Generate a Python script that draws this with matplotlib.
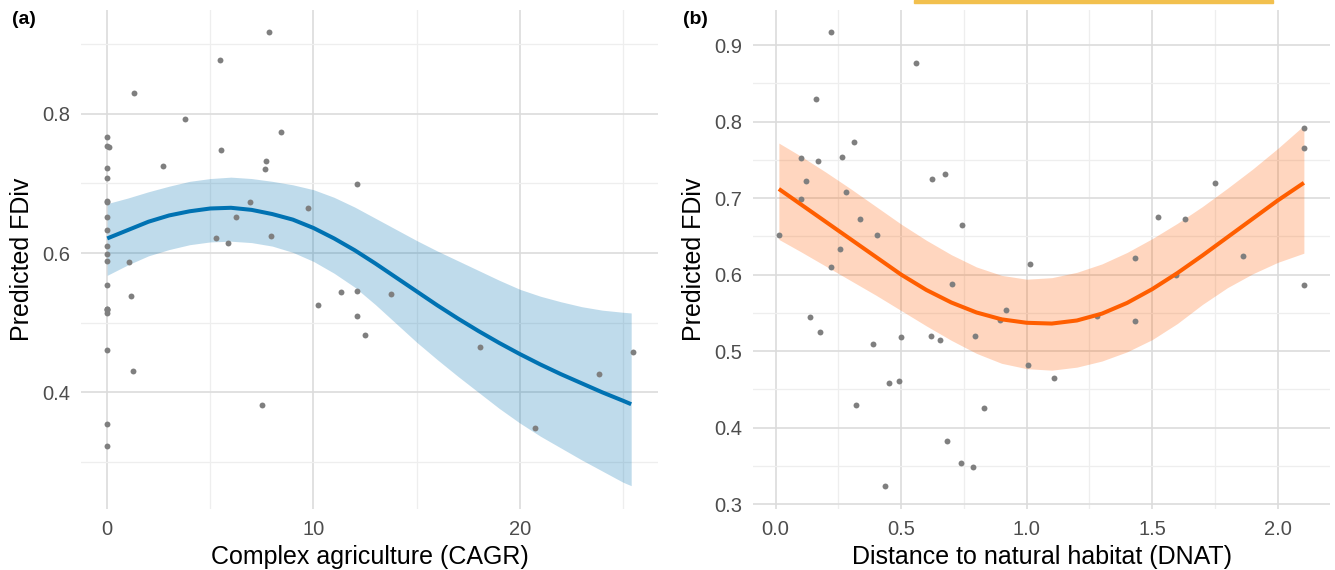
import matplotlib.pyplot as plt
import numpy as np

plt.rcParams['font.family'] = ['Liberation Sans', 'DejaVu Sans']

# observed FDiv values with both predictors
fdiv = [0.917, 0.877, 0.830, 0.792, 0.774, 0.766, 0.754, 0.752, 0.748, 0.732,
        0.725, 0.722, 0.720, 0.708, 0.699, 0.675, 0.673, 0.673, 0.665, 0.652,
        0.652, 0.633, 0.624, 0.622, 0.614, 0.610, 0.599, 0.588, 0.587, 0.554,
        0.546, 0.544, 0.541, 0.539, 0.525, 0.520, 0.520, 0.518, 0.514, 0.509,
        0.482, 0.465, 0.461, 0.458, 0.430, 0.426, 0.382, 0.354, 0.349, 0.323]
cagr = [7.82, 5.47, 1.29, 3.75, 8.41, 0, 0, 0.1, 5.50, 7.72,
        2.72, 0, 7.67, 0, 12.12, 0, 6.93, 0, 9.74, 0,
        6.23, 0, 7.95, 5.27, 5.87, 0, 0, 0, 1.07, 0,
        12.09, 11.33, 13.74, 1.15, 10.2, 0, 0, 0, 0, 12.09,
        12.49, 18.06, 0, 25.47, 1.23, 23.82, 7.51, 0, 20.73, 0]
dnat = [0.220, 0.559, 0.160, 2.104, 0.311, 2.104, 0.265, 0.101, 0.168, 0.673,
        0.621, 0.121, 1.749, 0.280, 0.100, 1.523, 1.632, 0.337, 0.741, 0.013,
        0.405, 0.256, 1.862, 1.432, 1.012, 0.220, 1.595, 0.701, 2.104, 0.918,
        1.280, 0.138, 0.895, 1.433, 0.176, 0.619, 0.794, 0.500, 0.653, 0.386,
        1.004, 1.110, 0.490, 0.451, 0.320, 0.829, 0.681, 0.737, 0.786, 0.434]

# fitted smooth and confidence band, panel (a)
fit_a_x = [0, 1, 2, 3, 4, 5, 6, 7, 8, 9, 10, 11, 12, 13, 14, 15, 16, 17, 18, 19,
           20, 21, 22, 23, 24, 25, 25.4]
fit_a_y = [0.621, 0.633, 0.645, 0.654, 0.660, 0.664, 0.665, 0.662, 0.656, 0.648,
           0.636, 0.621, 0.604, 0.585, 0.565, 0.545, 0.525, 0.506, 0.488, 0.471,
           0.455, 0.440, 0.426, 0.413, 0.400, 0.388, 0.383]
fit_a_hi = [0.671, 0.679, 0.688, 0.696, 0.703, 0.707, 0.709, 0.707, 0.703, 0.698,
            0.691, 0.680, 0.666, 0.650, 0.634, 0.618, 0.603, 0.589, 0.575, 0.561,
            0.548, 0.538, 0.530, 0.523, 0.518, 0.515, 0.514]
fit_a_lo = [0.568, 0.583, 0.596, 0.605, 0.612, 0.616, 0.617, 0.615, 0.610, 0.601,
            0.588, 0.571, 0.551, 0.526, 0.499, 0.472, 0.447, 0.423, 0.400, 0.377,
            0.356, 0.337, 0.320, 0.303, 0.287, 0.271, 0.266]

# fitted smooth and confidence band, panel (b)
fit_b_x = [0.013, 0.1, 0.2, 0.3, 0.4, 0.5, 0.6, 0.7, 0.8, 0.9, 1.0,
           1.1, 1.2, 1.3, 1.4, 1.5, 1.6, 1.7, 1.8, 1.9, 2.0, 2.104]
fit_b_y = [0.712, 0.692, 0.669, 0.646, 0.623, 0.600, 0.580, 0.5635, 0.5505, 0.5415, 0.537,
           0.536, 0.540, 0.549, 0.563, 0.581, 0.602, 0.625, 0.649, 0.673, 0.697, 0.720]
fit_b_hi = [0.772, 0.755, 0.734, 0.712, 0.689, 0.666, 0.645, 0.626, 0.610, 0.599, 0.594,
            0.596, 0.603, 0.614, 0.629, 0.647, 0.667, 0.689, 0.713, 0.738, 0.765, 0.795]
fit_b_lo = [0.646, 0.630, 0.611, 0.592, 0.573, 0.553, 0.533, 0.514, 0.497, 0.484, 0.477,
            0.475, 0.479, 0.487, 0.499, 0.515, 0.536, 0.561, 0.583, 0.601, 0.616, 0.628]

W, H = 1335, 570
fig = plt.figure(figsize=(W / 100, H / 100), dpi=100)

def px_axes(l, t, r, b):
    return fig.add_axes([l / W, 1 - b / H, (r - l) / W, (b - t) / H])

def style(ax):
    for s in ax.spines.values():
        s.set_visible(False)
    ax.set_axisbelow(True)
    ax.grid(True, which='major', color='#DCDCDC', linewidth=1.2)
    ax.grid(True, which='minor', color='#EEEEEE', linewidth=0.9)
    ax.tick_params(which='both', length=0, labelsize=14.5, labelcolor='#4D4D4D', pad=8)

blue = '#0072B2'
orange = '#FF5E00'

ax1 = px_axes(81, 10, 658, 509)
style(ax1)
ax1.fill_between(fit_a_x, fit_a_lo, fit_a_hi, color=blue, alpha=0.25, linewidth=0)
ax1.scatter(cagr, fdiv, s=18, color='#7F7F7F', linewidths=0, zorder=3)
ax1.plot(fit_a_x, fit_a_y, color=blue, linewidth=2.9, zorder=4, solid_capstyle='butt')
ax1.set_xlim(-1.27, 26.7)
ax1.set_ylim(0.2325, 0.949)
ax1.set_xticks([0, 10, 20])
ax1.set_xticks([5, 15, 25], minor=True)
ax1.set_yticks([0.4, 0.6, 0.8])
ax1.set_yticks([0.3, 0.5, 0.7, 0.9], minor=True)
ax1.set_yticklabels(['0.4', '0.6', '0.8'])
ax1.set_xlabel('Complex agriculture (CAGR)', fontsize=18, labelpad=4)
ax1.set_ylabel('Predicted FDiv', fontsize=18, labelpad=6)

ax2 = px_axes(753, 10, 1330, 509)
style(ax2)
ax2.fill_between(fit_b_x, fit_b_lo, fit_b_hi, color=orange, alpha=0.25, linewidth=0)
ax2.scatter(dnat, fdiv, s=18, color='#7F7F7F', linewidths=0, zorder=3)
ax2.plot(fit_b_x, fit_b_y, color=orange, linewidth=2.9, zorder=4, solid_capstyle='butt')
ax2.set_xlim(-0.09, 2.208)
ax2.set_ylim(0.2935, 0.946)
ax2.set_xticks([0.0, 0.5, 1.0, 1.5, 2.0])
ax2.set_xticks([0.25, 0.75, 1.25, 1.75], minor=True)
ax2.set_xticklabels(['0.0', '0.5', '1.0', '1.5', '2.0'])
ax2.set_yticks([0.3, 0.4, 0.5, 0.6, 0.7, 0.8, 0.9])
ax2.set_yticks([0.35, 0.45, 0.55, 0.65, 0.75, 0.85], minor=True)
ax2.set_yticklabels(['0.3', '0.4', '0.5', '0.6', '0.7', '0.8', '0.9'])
ax2.set_xlabel('Distance to natural habitat (DNAT)', fontsize=18, labelpad=4)
ax2.set_ylabel('Predicted FDiv', fontsize=18, labelpad=6)

fig.text(12 / W, 1 - 20 / H, '(a)', fontsize=14, fontweight='bold', va='center', ha='left')
fig.text(683 / W, 1 - 20 / H, '(b)', fontsize=14, fontweight='bold', va='center', ha='left')

# thin yellow strip at the top edge
fig.patches.append(plt.Rectangle((914 / W, 1 - 3 / H), (1273 - 914) / W, 3 / H,
                                 transform=fig.transFigure, color='#F2C04E', zorder=5))

fig.savefig('out.png', dpi=100)
